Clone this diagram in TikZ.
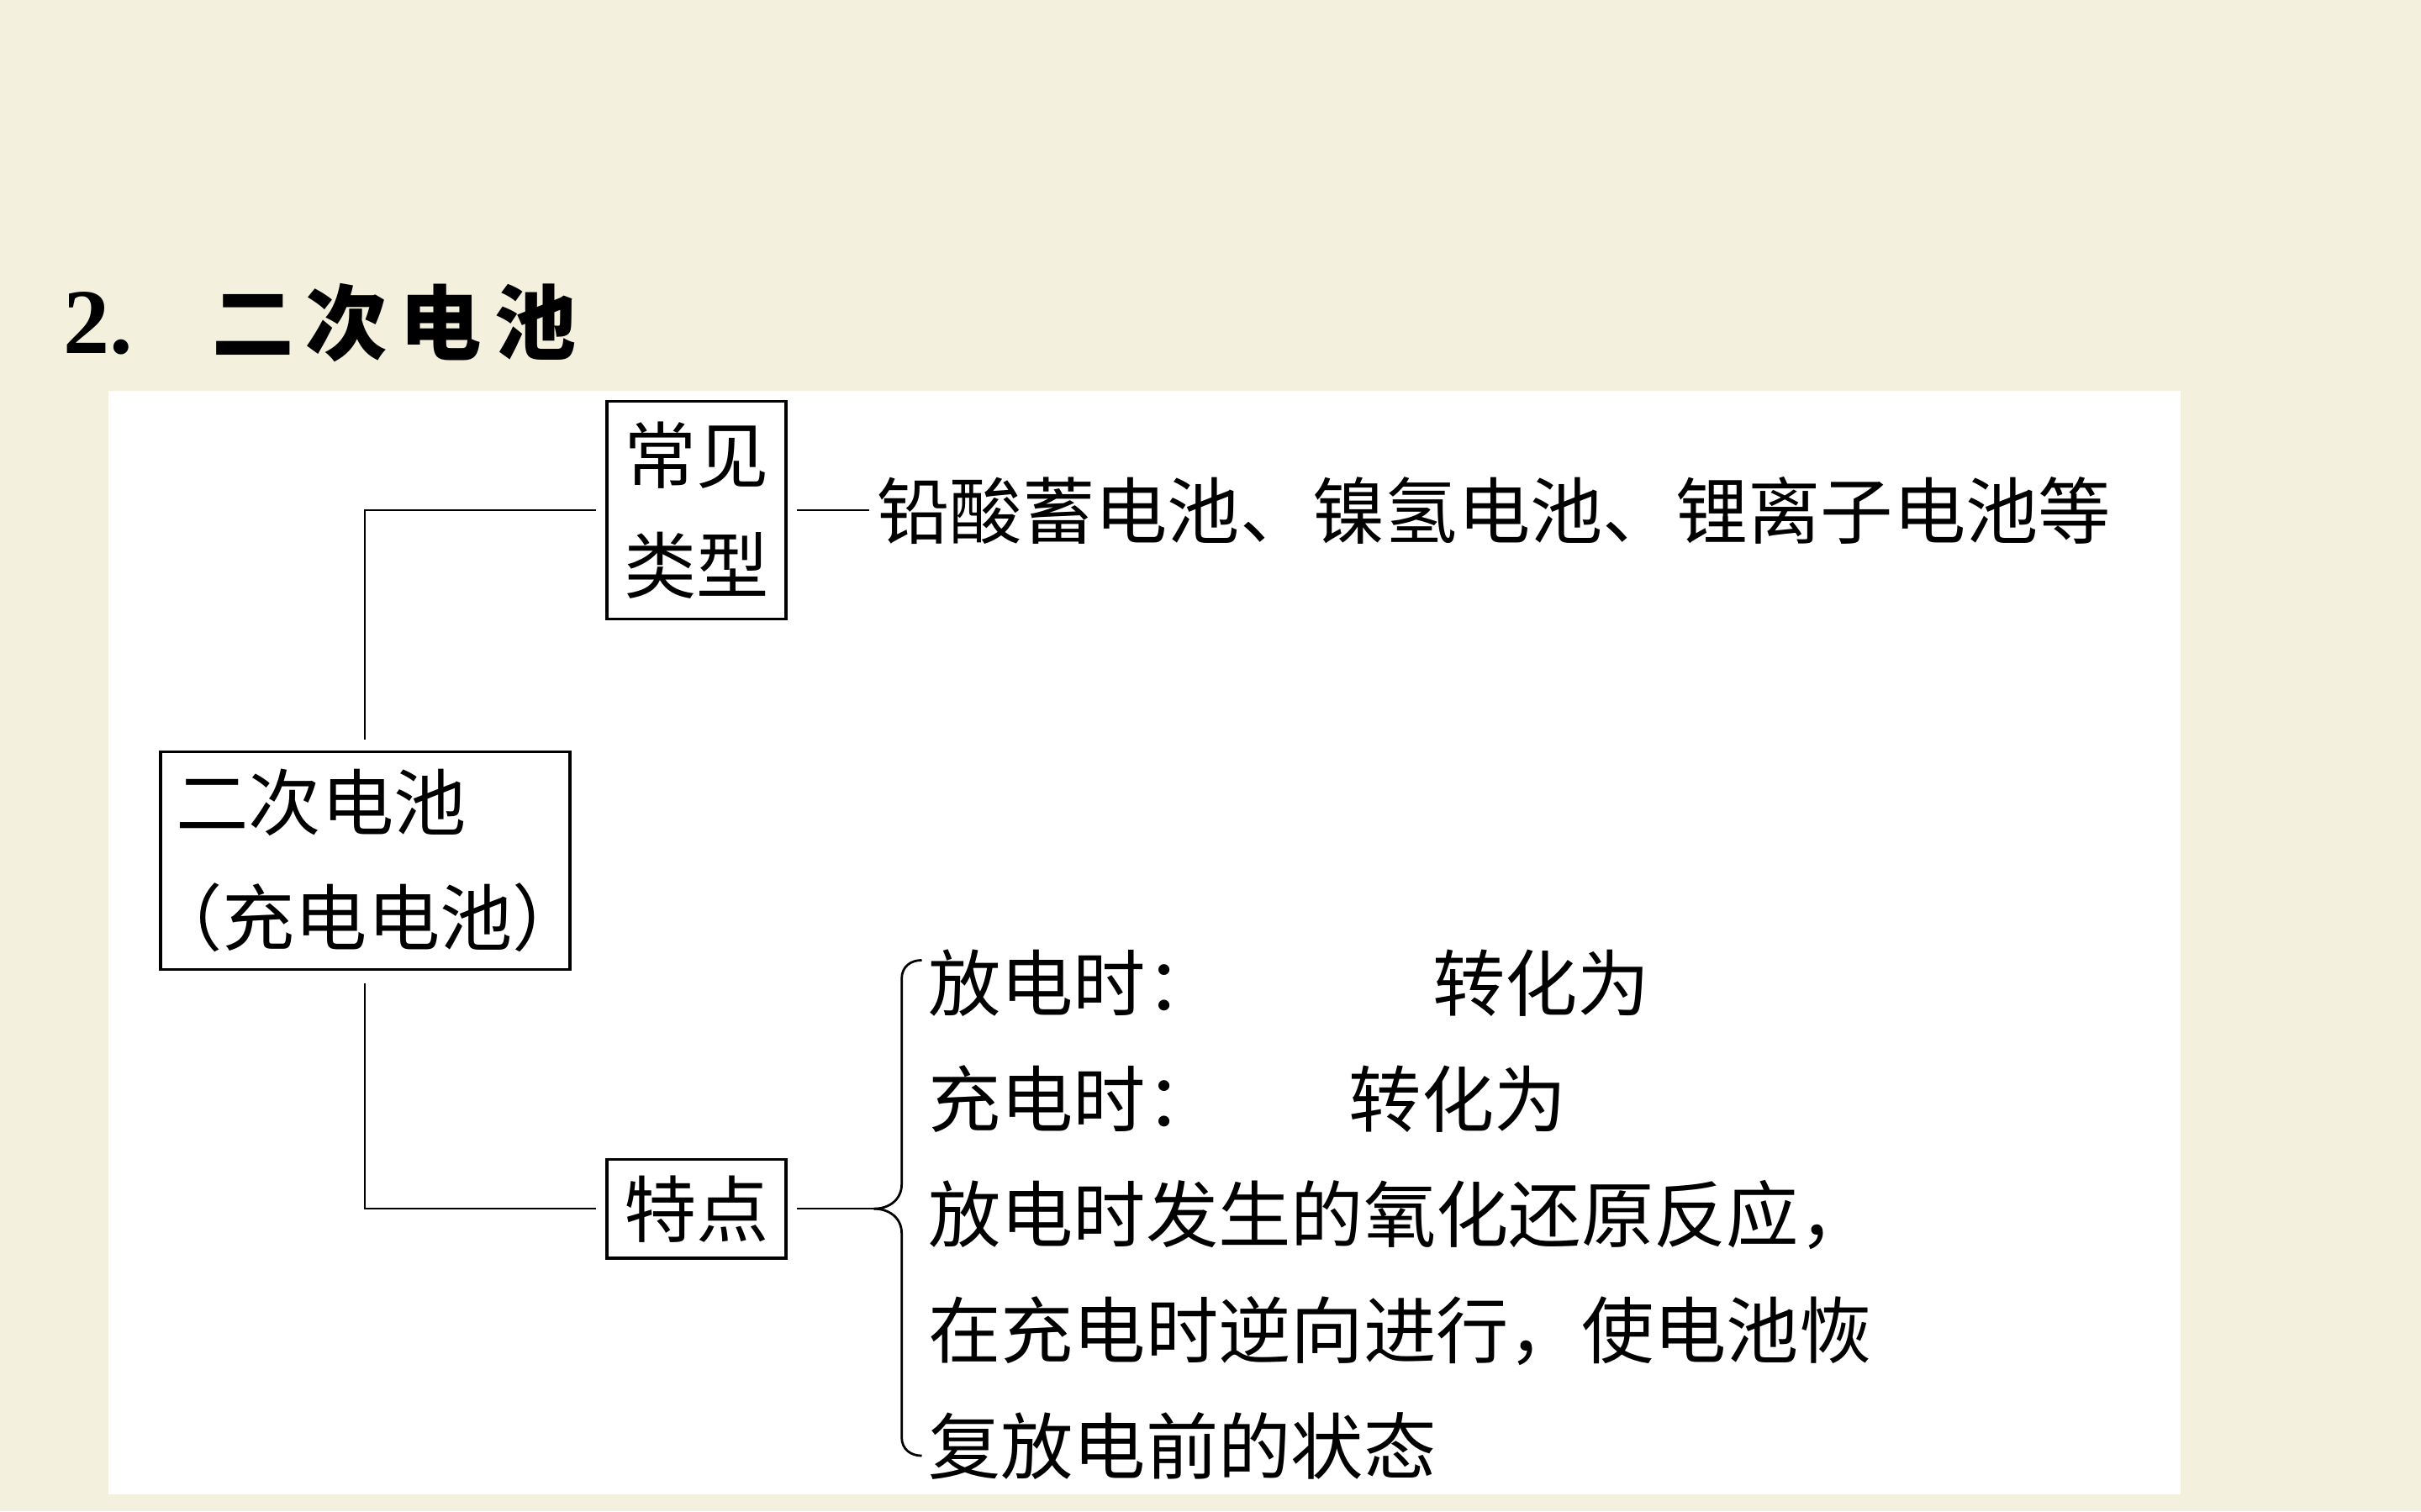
\documentclass[tikz,border=0pt]{standalone}
\usepackage{fontspec}
\newfontfamily\cjk{Noto Sans CJK SC}
\newfontfamily\numfont{Liberation Serif}
\definecolor{bgcream}{RGB}{244,240,222}
\tikzset{
  boxnode/.style={draw, line width=2pt, inner sep=0pt, font=\cjk\fontsize{47}{71}\selectfont},
  txt/.style={inner sep=0pt, anchor=west, font=\cjk\fontsize{47}{56}\selectfont},
  conn/.style={line width=1.2pt},
  bracepath/.style={line width=1.5pt},
}
\begin{document}
\begin{tikzpicture}[x=1pt,y=-1pt]
\useasboundingbox (0,0) rectangle (1568,979);
\fill[bgcream] (0,0) rectangle (1568,979);
\fill[white] (70,253) rectangle (1412,968);
% title
\node[inner sep=0pt, anchor=base west, font=\numfont\bfseries\fontsize{60}{60}\selectfont] (num) at (41,229) {2.};
\node[inner sep=0pt, anchor=west, font=\cjk\bfseries\fontsize{53}{53}\selectfont] (title) at (137,209) {二\hspace{8pt}次\hspace{8pt}电\hspace{8pt}池};
% boxes
\node[boxnode, minimum width=116pt, minimum height=141pt, align=center] (types) at (451,330.5) {常见\\类型};
\node[boxnode, minimum height=141pt, text width=245pt, inner xsep=10pt, align=left,
      font=\cjk\fontsize{47}{75}\selectfont] (root) at (236.5,557.5) {二次电池\\\hspace*{-17pt}（充电电池）};
\node[boxnode, minimum width=116pt, minimum height=64pt, align=center] (feat) at (451,783) {特点};
% list
\node[txt, inner xsep=5pt] (list) at (563,330.5) {铅酸蓄电池、镍氢电池、锂离子电池等};
% feature lines
\node[txt] (f1) at (601,637) {放电时：\hspace{2.95em}转化为};
\node[txt] (f2) at (601,712) {充电时：\hspace{1.8em}转化为};
\node[txt] (f3) at (601,787) {放电时发生的氧化还原反应，};
\node[txt] (f4) at (601,862) {在充电时逆向进行，使电池恢};
\node[txt] (f5) at (601,937) {复放电前的状态};
% connectors
\draw[conn, shorten <=7pt, shorten >=6pt] (root.north) |- (types.west);
\draw[conn, shorten <=8pt, shorten >=6pt] (root.south) |- (feat.west);
\draw[conn, shorten <=6pt] (types.east) -- (list.west);
\coordinate (tip) at (566,783);
\draw[conn, shorten <=6pt] (feat.east) -- (tip);
\draw[bracepath] (tip) .. controls (576,783) and (584,777) .. (584,767) -- (584,634)
   .. controls (584,626) and (590,622) .. (597,622);
\draw[bracepath] (tip) .. controls (576,783) and (584,789) .. (584,799) -- (584,931)
   .. controls (584,939) and (590,943) .. (597,943);
\end{tikzpicture}
\end{document}
